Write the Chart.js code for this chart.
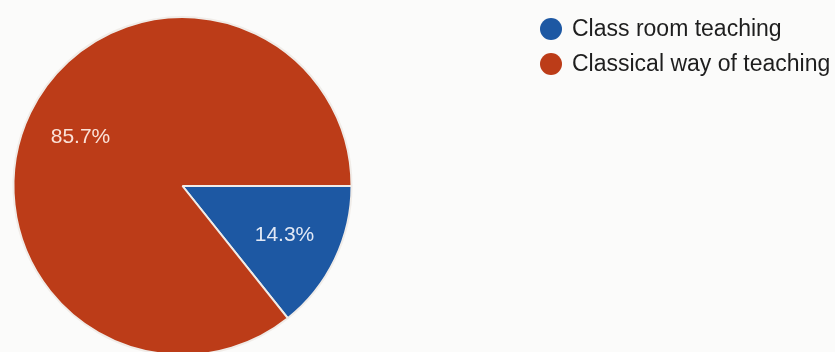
<!DOCTYPE html>
<html>
<head>
<meta charset="utf-8">
<script src="https://cdn.jsdelivr.net/npm/chart.js@4/dist/chart.umd.min.js"></script>
<style>
  html, body { margin: 0; padding: 0; background: #fbfbfa; overflow: hidden; width: 835px; height: 352px; }
  canvas { position: absolute; left: 0; top: 0; }
</style>
</head>
<body>
<canvas id="myChart" width="835" height="360"></canvas>
<script>
var labels = ['Class room teaching', 'Classical way of teaching'];
var shares = [14.3, 85.7];
var colors = ['rgb(29, 88, 163)', 'rgb(188, 60, 24)'];

// percentage text inside each slice
var sliceLabels = {
  id: 'sliceLabels',
  afterDatasetsDraw: function(chart) {
    var ctx = chart.ctx;
    var meta = chart.getDatasetMeta(0);
    ctx.save();
    ctx.font = '21px "Liberation Sans", Arial, sans-serif';
    ctx.textAlign = 'center';
    ctx.textBaseline = 'middle';
    meta.data.forEach(function(arc, i) {
      var p = arc.getProps(['x', 'y', 'startAngle', 'endAngle', 'outerRadius'], true);
      var mid = (p.startAngle + p.endAngle) / 2;
      var r = p.outerRadius * 0.67;
      ctx.fillStyle = i == 0 ? 'rgb(225, 232, 245)' : 'rgb(250, 225, 215)';
      ctx.fillText(shares[i].toFixed(1) + '%', p.x + Math.cos(mid) * r, p.y + Math.sin(mid) * r);
    });
    ctx.restore();
  }
};

// legend off to the right of the pie
var sideLegend = {
  id: 'sideLegend',
  afterDraw: function(chart) {
    var ctx = chart.ctx;
    ctx.save();
    ctx.font = '23px "Liberation Sans", Arial, sans-serif';
    ctx.textBaseline = 'middle';
    labels.forEach(function(name, i) {
      var y = 29 + i * 35;
      ctx.beginPath();
      ctx.arc(551, y, 11, 0, Math.PI * 2);
      ctx.fillStyle = colors[i];
      ctx.fill();
      ctx.fillStyle = '#1e1e1e';
      ctx.fillText(name, 572, y + 1);
    });
    ctx.restore();
  }
};

var ctx = document.getElementById('myChart').getContext('2d');
var chart = new Chart(ctx, {
  type: 'pie',
  data: {
    labels: labels,
    datasets: [{
      data: shares,
      backgroundColor: colors,
      borderColor: 'rgb(240, 236, 232)',
      borderWidth: 2
    }]
  },
  options: {
    responsive: false,
    animation: false,
    events: [],
    rotation: 90,
    layout: { padding: { left: 12, top: 16, right: 482, bottom: 4 } },
    plugins: {
      legend: { display: false },
      tooltip: { enabled: false }
    }
  },
  plugins: [sliceLabels, sideLegend]
});
</script>
</body>
</html>
